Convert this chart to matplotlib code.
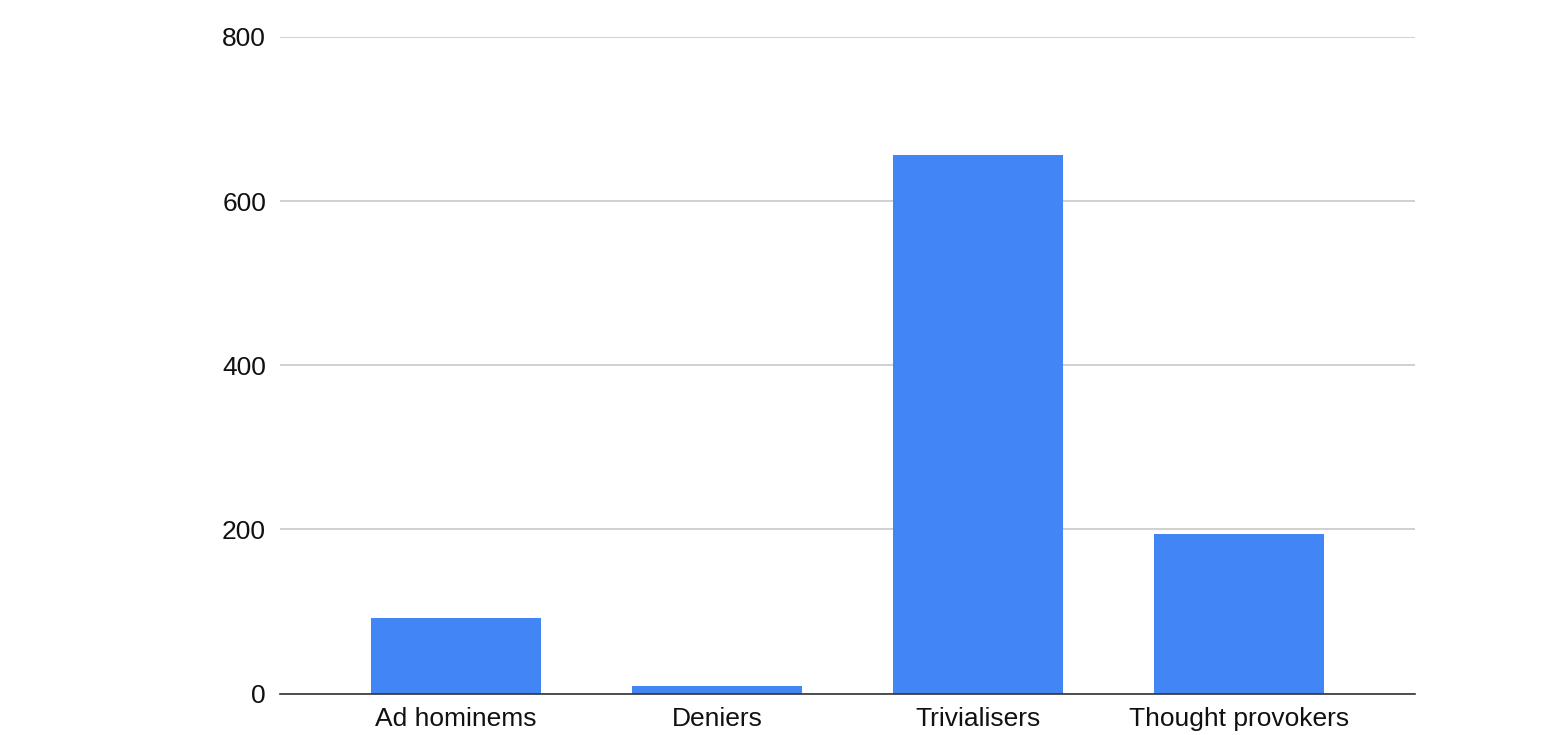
import matplotlib.pyplot as plt
import numpy as np

categories = ["Ad hominems", "Deniers", "Trivialisers", "Thought provokers"]
values = [92, 9, 656, 194]
y_ticks = [0, 200, 400, 600, 800]

plt.rcParams["font.family"] = ["Liberation Sans", "DejaVu Sans"]

fig = plt.figure(figsize=(15.68, 7.35), dpi=100)
ax = fig.add_axes([280 / 1568, (735 - 693.5) / 735, (1415 - 280) / 1568, (693.5 - 37) / 735])

x = np.arange(len(categories))
ax.bar(x, values, width=0.65, color="#4285F4", zorder=3)

ax.set_xlim(-0.675, 3.675)
ax.set_ylim(0, 800)
ax.set_yticks(y_ticks)
ax.set_yticklabels([str(t) for t in y_ticks], fontsize=19)
ax.set_xticks(x)
ax.set_xticklabels(categories, fontsize=19)
ax.tick_params(axis="both", length=0, colors="#111111")
ax.tick_params(axis="y", pad=10)
ax.tick_params(axis="x", pad=10)

ax.grid(axis="y", color="#c8c8cc", linewidth=1.2, zorder=0)
for side in ("top", "right", "left"):
    ax.spines[side].set_visible(False)
ax.spines["bottom"].set_color("#333333")
ax.spines["bottom"].set_linewidth(1.2)
ax.spines["bottom"].set_zorder(4)

fig.savefig("out.png", dpi=100)
plt.close(fig)
